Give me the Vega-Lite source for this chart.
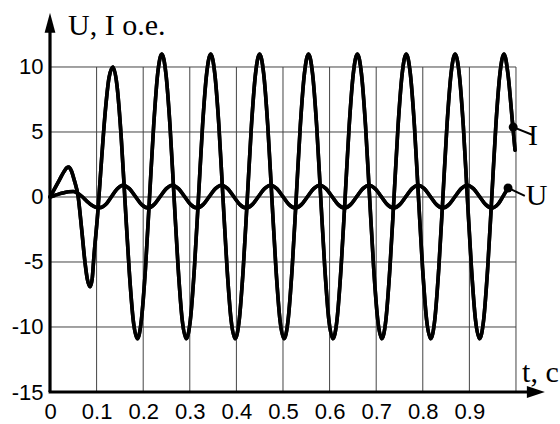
{
  "$schema": "https://vega.github.io/schema/vega-lite/v6.json",
  "width": 500,
  "height": 384,
  "autosize": {"type": "none"},
  "padding": {"left": 50, "top": 8, "right": 10, "bottom": 32},
  "background": "white",
  "config": {"view": {"stroke": null}},
  "datasets": {
    "curves": [
      {"s":"I","t":0,"v":0},{"s":"I","t":0.01,"v":0.65},{"s":"I","t":0.02,"v":1.3},{"s":"I","t":0.03,"v":1.95},{"s":"I","t":0.036,"v":2.25},{"s":"I","t":0.04,"v":2.3},{"s":"I","t":0.046,"v":2.0},{"s":"I","t":0.052,"v":1.3},{"s":"I","t":0.0605,"v":0},{"s":"I","t":0.068,"v":-2.5},{"s":"I","t":0.075,"v":-5.0},{"s":"I","t":0.08,"v":-6.3},{"s":"I","t":0.086,"v":-6.9},{"s":"I","t":0.0905,"v":-6.3},{"s":"I","t":0.0942,"v":-4.6},{"s":"I","t":0.1023,"v":-1.3},{"s":"I","t":0.1105,"v":2.8},{"s":"I","t":0.1187,"v":6.6},{"s":"I","t":0.1268,"v":9.2},{"s":"I","t":0.135,"v":10},
      {"s":"I","t":0.1437,"v":8.6},{"s":"I","t":0.1525,"v":4.77},{"s":"I","t":0.1612,"v":-0.45},{"s":"I","t":0.17,"v":-5.67},{"s":"I","t":0.1787,"v":-9.5},{"s":"I","t":0.1875,"v":-10.9},
      {"s":"I","t":0.1962,"v":-9.43},{"s":"I","t":0.205,"v":-5.42},{"s":"I","t":0.2137,"v":0.05},{"s":"I","t":0.2225,"v":5.5},{"s":"I","t":0.2312,"v":9.53},{"s":"I","t":0.24,"v":11},
      {"s":"I","t":0.2487,"v":9.5},{"s":"I","t":0.2575,"v":5.5},{"s":"I","t":0.2662,"v":0},{"s":"I","t":0.275,"v":-5.45},{"s":"I","t":0.2837,"v":-9.45},{"s":"I","t":0.2925,"v":-10.9},
      {"s":"I","t":0.3012,"v":-9.45},{"s":"I","t":0.3099,"v":-5.45},{"s":"I","t":0.3187,"v":0},{"s":"I","t":0.3274,"v":5.5},{"s":"I","t":0.3362,"v":9.5},{"s":"I","t":0.3449,"v":11},
      {"s":"I","t":0.3536,"v":9.5},{"s":"I","t":0.3624,"v":5.5},{"s":"I","t":0.3711,"v":0},{"s":"I","t":0.3799,"v":-5.45},{"s":"I","t":0.3886,"v":-9.45},{"s":"I","t":0.3974,"v":-10.9},
      {"s":"I","t":0.4061,"v":-9.45},{"s":"I","t":0.4148,"v":-5.45},{"s":"I","t":0.4236,"v":0},{"s":"I","t":0.4323,"v":5.5},{"s":"I","t":0.4411,"v":9.5},{"s":"I","t":0.4498,"v":11},
      {"s":"I","t":0.4585,"v":9.5},{"s":"I","t":0.4673,"v":5.5},{"s":"I","t":0.476,"v":0},{"s":"I","t":0.4848,"v":-5.45},{"s":"I","t":0.4935,"v":-9.45},{"s":"I","t":0.5023,"v":-10.9},
      {"s":"I","t":0.511,"v":-9.45},{"s":"I","t":0.5197,"v":-5.45},{"s":"I","t":0.5285,"v":0},{"s":"I","t":0.5372,"v":5.5},{"s":"I","t":0.546,"v":9.5},{"s":"I","t":0.5547,"v":11},
      {"s":"I","t":0.5634,"v":9.5},{"s":"I","t":0.5722,"v":5.5},{"s":"I","t":0.5809,"v":0},{"s":"I","t":0.5897,"v":-5.45},{"s":"I","t":0.5984,"v":-9.45},{"s":"I","t":0.6072,"v":-10.9},
      {"s":"I","t":0.6159,"v":-9.45},{"s":"I","t":0.6246,"v":-5.45},{"s":"I","t":0.6334,"v":0},{"s":"I","t":0.6421,"v":5.5},{"s":"I","t":0.6509,"v":9.5},{"s":"I","t":0.6596,"v":11},
      {"s":"I","t":0.6683,"v":9.5},{"s":"I","t":0.6771,"v":5.5},{"s":"I","t":0.6858,"v":0},{"s":"I","t":0.6946,"v":-5.45},{"s":"I","t":0.7033,"v":-9.45},{"s":"I","t":0.7121,"v":-10.9},
      {"s":"I","t":0.7208,"v":-9.45},{"s":"I","t":0.7295,"v":-5.45},{"s":"I","t":0.7383,"v":0},{"s":"I","t":0.747,"v":5.5},{"s":"I","t":0.7558,"v":9.5},{"s":"I","t":0.7645,"v":11},
      {"s":"I","t":0.7732,"v":9.5},{"s":"I","t":0.782,"v":5.5},{"s":"I","t":0.7907,"v":0},{"s":"I","t":0.7995,"v":-5.45},{"s":"I","t":0.8082,"v":-9.45},{"s":"I","t":0.817,"v":-10.9},
      {"s":"I","t":0.8257,"v":-9.45},{"s":"I","t":0.8344,"v":-5.45},{"s":"I","t":0.8432,"v":0},{"s":"I","t":0.8519,"v":5.5},{"s":"I","t":0.8607,"v":9.5},{"s":"I","t":0.8694,"v":11},
      {"s":"I","t":0.8781,"v":9.5},{"s":"I","t":0.8869,"v":5.5},{"s":"I","t":0.8956,"v":0},{"s":"I","t":0.9044,"v":-5.45},{"s":"I","t":0.9131,"v":-9.45},{"s":"I","t":0.9219,"v":-10.9},
      {"s":"I","t":0.9306,"v":-9.45},{"s":"I","t":0.9393,"v":-5.45},{"s":"I","t":0.9481,"v":0},{"s":"I","t":0.9568,"v":5.5},{"s":"I","t":0.9656,"v":9.5},{"s":"I","t":0.9743,"v":11},
      {"s":"I","t":0.983,"v":9.4},{"s":"I","t":0.9918,"v":6.0},{"s":"I","t":0.998,"v":3.6},
      {"s":"U","t":0,"v":0},{"s":"U","t":0.01,"v":0.12},{"s":"U","t":0.02,"v":0.24},{"s":"U","t":0.03,"v":0.33},{"s":"U","t":0.04,"v":0.4},{"s":"U","t":0.05,"v":0.42},{"s":"U","t":0.058,"v":0.32},{"s":"U","t":0.07,"v":0},{"s":"U","t":0.08,"v":-0.35},{"s":"U","t":0.089,"v":-0.62},{"s":"U","t":0.098,"v":-0.78},{"s":"U","t":0.107,"v":-0.82},
      {"s":"U","t":0.1195,"v":-0.58},{"s":"U","t":0.132,"v":0.03},{"s":"U","t":0.1445,"v":0.64},{"s":"U","t":0.157,"v":0.9},
      {"s":"U","t":0.1703,"v":0.64},{"s":"U","t":0.1835,"v":0.025},{"s":"U","t":0.1968,"v":-0.59},{"s":"U","t":0.21,"v":-0.85},
      {"s":"U","t":0.2232,"v":-0.59},{"s":"U","t":0.2364,"v":0.025},{"s":"U","t":0.2496,"v":0.64},{"s":"U","t":0.2625,"v":0.9},
      {"s":"U","t":0.2757,"v":0.64},{"s":"U","t":0.2889,"v":0.025},{"s":"U","t":0.3021,"v":-0.59},{"s":"U","t":0.3153,"v":-0.85},
      {"s":"U","t":0.3285,"v":-0.59},{"s":"U","t":0.3417,"v":0.025},{"s":"U","t":0.3549,"v":0.64},{"s":"U","t":0.368,"v":0.9},
      {"s":"U","t":0.3812,"v":0.64},{"s":"U","t":0.3944,"v":0.025},{"s":"U","t":0.4076,"v":-0.59},{"s":"U","t":0.4208,"v":-0.85},
      {"s":"U","t":0.434,"v":-0.59},{"s":"U","t":0.4472,"v":0.025},{"s":"U","t":0.4604,"v":0.64},{"s":"U","t":0.4735,"v":0.9},
      {"s":"U","t":0.4867,"v":0.64},{"s":"U","t":0.4999,"v":0.025},{"s":"U","t":0.5131,"v":-0.59},{"s":"U","t":0.5263,"v":-0.85},
      {"s":"U","t":0.5395,"v":-0.59},{"s":"U","t":0.5527,"v":0.025},{"s":"U","t":0.5659,"v":0.64},{"s":"U","t":0.579,"v":0.9},
      {"s":"U","t":0.5922,"v":0.64},{"s":"U","t":0.6054,"v":0.025},{"s":"U","t":0.6186,"v":-0.59},{"s":"U","t":0.6318,"v":-0.85},
      {"s":"U","t":0.645,"v":-0.59},{"s":"U","t":0.6582,"v":0.025},{"s":"U","t":0.6714,"v":0.64},{"s":"U","t":0.6845,"v":0.9},
      {"s":"U","t":0.6977,"v":0.64},{"s":"U","t":0.7109,"v":0.025},{"s":"U","t":0.7241,"v":-0.59},{"s":"U","t":0.7373,"v":-0.85},
      {"s":"U","t":0.7505,"v":-0.59},{"s":"U","t":0.7637,"v":0.025},{"s":"U","t":0.7769,"v":0.64},{"s":"U","t":0.79,"v":0.9},
      {"s":"U","t":0.8032,"v":0.64},{"s":"U","t":0.8164,"v":0.025},{"s":"U","t":0.8296,"v":-0.59},{"s":"U","t":0.8428,"v":-0.85},
      {"s":"U","t":0.856,"v":-0.59},{"s":"U","t":0.8692,"v":0.025},{"s":"U","t":0.8824,"v":0.64},{"s":"U","t":0.8955,"v":0.9},
      {"s":"U","t":0.9087,"v":0.64},{"s":"U","t":0.9219,"v":0.025},{"s":"U","t":0.9351,"v":-0.59},{"s":"U","t":0.9483,"v":-0.85},
      {"s":"U","t":0.9615,"v":-0.55},{"s":"U","t":0.9747,"v":0.2},{"s":"U","t":0.983,"v":0.7}
    ],
    "vgrid": [{"x":0.1},{"x":0.2},{"x":0.3},{"x":0.4},{"x":0.5},{"x":0.6},{"x":0.7},{"x":0.8},{"x":0.9},{"x":1.0}],
    "hgrid": [{"y":-10},{"y":-5},{"y":0},{"y":5},{"y":10}],
    "labels": [
      {"label":"U, I o.e.","t":0.0386,"v":12.46},
      {"label":"t, c","t":1.013,"v":-14.23},
      {"label":"I","t":1.026,"v":4.0},
      {"label":"U","t":1.021,"v":-0.62}
    ],
    "dots": [{"t":0.994,"v":5.38},{"t":0.983,"v":0.69}],
    "leaders": [{"t":0.994,"v":5.38,"t2":1.036,"v2":4.77},{"t":0.983,"v":0.69,"t2":1.019,"v2":0.08}]
  },
  "layer": [
    {
      "data": {"name": "curves"},
      "mark": {"type": "line", "color": "black", "strokeWidth": 3.6, "interpolate": "monotone", "strokeJoin": "round", "strokeCap": "round"},
      "encoding": {
        "x": {"field": "t", "type": "quantitative",
          "scale": {"domain": [0, 1.073], "nice": false, "zero": false},
          "axis": {"values": [0, 0.1, 0.2, 0.3, 0.4, 0.5, 0.6, 0.7, 0.8, 0.9], "format": ".1~f", "labelFont": "Liberation Sans", "labelFontSize": 22, "labelColor": "black", "domain": false, "ticks": false, "tickSize": 0, "grid": false, "title": null, "labelPadding": 9, "labelFlush": false, "labelOverlap": false}},
        "y": {"field": "v", "type": "quantitative",
          "scale": {"domain": [-15, 14.538], "nice": false, "zero": false},
          "axis": {"values": [-15, -10, -5, 0, 5, 10], "labelExpr": "'' + datum.value", "labelFont": "Liberation Sans", "labelFontSize": 22, "labelColor": "black", "domain": false, "ticks": false, "tickSize": 0, "grid": false, "title": null, "labelPadding": 7, "labelFlush": false, "labelOverlap": false}},
        "detail": {"field": "s"}
      }
    },
    {
      "data": {"name": "vgrid"},
      "mark": {"type": "rule", "color": "#444", "strokeWidth": 1},
      "encoding": {
        "x": {"field": "x", "type": "quantitative"},
        "y": {"datum": -15, "type": "quantitative"},
        "y2": {"datum": 10}
      }
    },
    {
      "data": {"name": "hgrid"},
      "mark": {"type": "rule", "color": "#444", "strokeWidth": 1},
      "encoding": {
        "y": {"field": "y", "type": "quantitative"},
        "x": {"datum": 0, "type": "quantitative"},
        "x2": {"datum": 1.0}
      }
    },
    {
      "data": {"name": "curves"},
      "mark": {"type": "line", "color": "black", "strokeWidth": 3.6, "interpolate": "monotone", "strokeJoin": "round", "strokeCap": "round"},
      "encoding": {
        "x": {"field": "t", "type": "quantitative"},
        "y": {"field": "v", "type": "quantitative"},
        "detail": {"field": "s"}
      }
    },
    {
      "data": {"values": [{}]},
      "mark": {"type": "rule", "color": "black", "strokeWidth": 3.2},
      "encoding": {"x": {"datum": 0, "type": "quantitative"}, "y": {"datum": -15, "type": "quantitative"}, "y2": {"datum": 13.2}}
    },
    {
      "data": {"values": [{}]},
      "mark": {"type": "rule", "color": "black", "strokeWidth": 3.2},
      "encoding": {"x": {"datum": -0.003, "type": "quantitative"}, "x2": {"datum": 1.04}, "y": {"datum": -15, "type": "quantitative"}}
    },
    {
      "data": {"values": [{}]},
      "mark": {"type": "point", "shape": "M0,0L0.27,1L-0.27,1Z", "size": 1600, "filled": true, "color": "black", "opacity": 1},
      "encoding": {"x": {"datum": 0, "type": "quantitative"}, "y": {"datum": 14.18, "type": "quantitative"}}
    },
    {
      "data": {"values": [{}]},
      "mark": {"type": "point", "shape": "M0,0L-1,0.33L-1,-0.33Z", "size": 1296, "filled": true, "color": "black", "opacity": 1},
      "encoding": {"x": {"datum": 1.062, "type": "quantitative"}, "y": {"datum": -15, "type": "quantitative"}}
    },
    {
      "data": {"name": "leaders"},
      "mark": {"type": "rule", "color": "black", "strokeWidth": 2},
      "encoding": {
        "x": {"field": "t", "type": "quantitative"}, "x2": {"field": "t2"},
        "y": {"field": "v", "type": "quantitative"}, "y2": {"field": "v2"}
      }
    },
    {
      "data": {"name": "dots"},
      "mark": {"type": "circle", "color": "black", "size": 80, "opacity": 1},
      "encoding": {"x": {"field": "t", "type": "quantitative"}, "y": {"field": "v", "type": "quantitative"}}
    },
    {
      "data": {"name": "labels"},
      "mark": {"type": "text", "font": "Liberation Serif", "fontSize": 30, "color": "black", "align": "left", "baseline": "alphabetic"},
      "encoding": {"x": {"field": "t", "type": "quantitative"}, "y": {"field": "v", "type": "quantitative"}, "text": {"field": "label"}}
    }
  ]
}
